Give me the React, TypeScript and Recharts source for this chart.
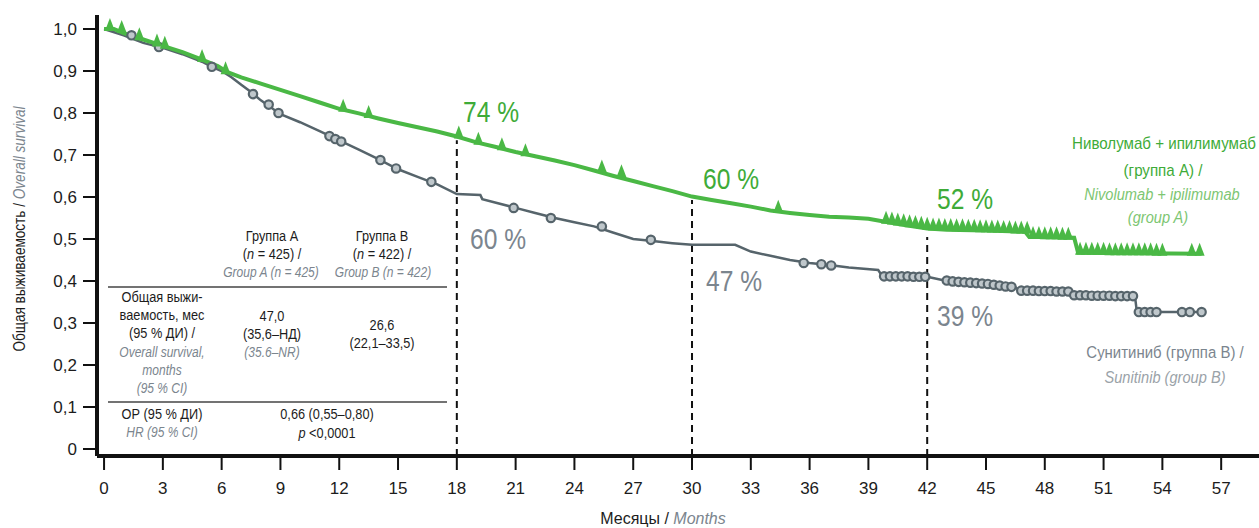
import { ComposedChart, Line, Scatter, XAxis, YAxis, ReferenceLine } from 'recharts';

// узкого шрифта нет, поэтому подписи сжимаются по горизонтали
const FONT = "'Liberation Sans', Arial, sans-serif";

const GREEN = '#4ab845';
const GREEN_TEXT = '#3eab38';
const GREEN_LIGHT = '#7dc672';
const GRAY = '#56646b';
const GRAY_TEXT = '#7b858e';
const GRAY_LIGHT = '#9aa2a8';
const INK = '#1c1c1c';

// оси
const monthTicks = [0, 3, 6, 9, 12, 15, 18, 21, 24, 27, 30, 33, 36, 39, 42, 45, 48, 51, 54, 57];
const survivalTicks = [0, 0.1, 0.2, 0.3, 0.4, 0.5, 0.6, 0.7, 0.8, 0.9, 1.0];

// группа А: ниволумаб + ипилимумаб
const groupAMonths = [0, 0.5, 1, 2, 3, 4, 5, 5.8, 6.3, 7, 8, 9, 10, 11, 12, 13, 14, 15, 16, 17, 18, 19, 20, 21, 22, 23, 24, 25, 26, 27, 28, 29, 30, 31, 32, 33, 34, 35, 36, 37, 38, 39, 40, 41, 42, 43, 45, 47, 47.2, 49.5, 49.7, 56];
const groupASurvival = [1.0, 1.0, 0.99, 0.975, 0.96, 0.945, 0.927, 0.912, 0.897, 0.885, 0.87, 0.855, 0.84, 0.825, 0.81, 0.799, 0.787, 0.776, 0.766, 0.756, 0.744, 0.73, 0.719, 0.707, 0.697, 0.687, 0.676, 0.663, 0.65, 0.638, 0.626, 0.614, 0.601, 0.593, 0.585, 0.577, 0.568, 0.562, 0.557, 0.553, 0.551, 0.548, 0.54, 0.532, 0.525, 0.522, 0.52, 0.517, 0.505, 0.503, 0.467, 0.465];

// группа B: сунитиниб
const groupBMonths = [0, 1, 2, 3, 4, 5, 5.5, 6, 6.5, 7, 7.5, 8, 9, 10, 11, 12, 13, 14, 15, 16, 17, 18, 19.2, 19.3, 21, 22, 23, 24, 25, 26, 27, 28, 29, 30, 32.2, 33, 34, 35, 36, 37, 38, 39.5, 39.7, 42, 43, 44, 45, 46.5, 46.7, 49.3, 49.4, 52.6, 52.7, 56];
const groupBSurvival = [1.0, 0.985, 0.967, 0.955, 0.94, 0.922, 0.91, 0.9, 0.885, 0.867, 0.85, 0.83, 0.797, 0.778, 0.757, 0.735, 0.713, 0.69, 0.666, 0.648, 0.63, 0.607, 0.605, 0.595, 0.574, 0.562, 0.55, 0.54, 0.53, 0.515, 0.5, 0.495, 0.49, 0.486, 0.486, 0.47, 0.46, 0.45, 0.443, 0.438, 0.432, 0.426, 0.412, 0.41, 0.4, 0.395, 0.392, 0.385, 0.378, 0.375, 0.367, 0.364, 0.326, 0.326];

// цензурированные наблюдения, группа А
const censorAMonths = [
  0.3, 0.9, 1.8, 2.7, 3.1, 5.0, 6.2, 12.2, 13.5, 18.1, 19.1, 20.3, 21.5, 25.4, 26.4, 34.4,
  39.9, 40.2, 40.5, 40.8, 41.1, 41.4, 41.7, 42.0, 42.3, 42.6, 42.9, 43.2, 43.5, 43.8, 44.1, 44.4, 44.7, 45.0, 45.3, 45.6, 45.9, 46.2, 46.5, 46.8, 47.1,
  47.4, 47.7, 48.0, 48.3, 48.6, 48.9, 49.2,
  49.8, 50.1, 50.4, 50.7, 51.0, 51.3, 51.6, 51.9, 52.2, 52.5, 52.8, 53.1, 53.4, 53.7, 54.0, 55.5, 55.9,
];
const censorASurvival = [
  1.0, 0.995, 0.978, 0.963, 0.958, 0.926, 0.897, 0.808, 0.793, 0.744, 0.729, 0.716, 0.702, 0.663, 0.652, 0.567,
  0.541, 0.539, 0.537, 0.535, 0.533, 0.531, 0.529, 0.527, 0.525, 0.525, 0.524, 0.524, 0.523, 0.523, 0.522, 0.522, 0.521, 0.521, 0.52, 0.52, 0.519, 0.519, 0.518, 0.518, 0.517,
  0.505, 0.505, 0.504, 0.504, 0.504, 0.503, 0.503,
  0.467, 0.467, 0.467, 0.467, 0.467, 0.466, 0.466, 0.466, 0.466, 0.466, 0.466, 0.466, 0.466, 0.465, 0.465, 0.465, 0.465,
];

// цензурированные наблюдения, группа B
const censorBMonths = [
  1.4, 2.8, 5.5, 7.6, 8.4, 8.9, 11.5, 11.8, 12.1, 14.1, 14.9, 16.7, 20.9, 22.8, 25.4, 27.9, 35.7, 36.6, 37.1,
  39.8, 40.1, 40.4, 40.7, 41.0, 41.3, 41.6, 41.9,
  43.0, 43.3, 43.6, 43.9, 44.2, 44.5, 44.8, 45.1, 45.4, 45.7, 46.0, 46.3,
  46.8, 47.1, 47.4, 47.7, 48.0, 48.3, 48.6, 48.9, 49.2,
  49.5, 49.8, 50.1, 50.4, 50.7, 51.0, 51.3, 51.6, 51.9, 52.2, 52.5,
  52.8, 53.1, 53.4, 53.7, 55.0, 55.4, 56.0,
];
const censorBSurvival = [
  0.985, 0.957, 0.91, 0.845, 0.82, 0.8, 0.745, 0.738, 0.732, 0.688, 0.668, 0.636, 0.574, 0.55, 0.53, 0.498, 0.443, 0.44, 0.437,
  0.411, 0.411, 0.411, 0.411, 0.411, 0.41, 0.41, 0.41,
  0.401, 0.399, 0.398, 0.397, 0.396, 0.395, 0.394, 0.393, 0.391, 0.389, 0.387, 0.386,
  0.377, 0.377, 0.377, 0.376, 0.376, 0.376, 0.375, 0.375, 0.375,
  0.366, 0.366, 0.366, 0.365, 0.365, 0.365, 0.365, 0.364, 0.364, 0.364, 0.364,
  0.326, 0.326, 0.326, 0.326, 0.326, 0.326, 0.326,
];

// пунктирные отметки на 18, 30 и 42 мес
const markMonths = [18, 30, 42];
const markTops = [0.735, 0.593, 0.505];

const Y_MIN = -0.0167;
const Y_MAX = 1.0333;

const zip = (ms: number[], ss: number[]) => ms.map((m, i) => ({ m, s: ss[i] }));

const groupA = zip(groupAMonths, groupASurvival);
const groupB = zip(groupBMonths, groupBSurvival);
const censorA = zip(censorAMonths, censorASurvival);
const censorB = zip(censorBMonths, censorBSurvival);

const Triangle = (props: any) => {
  const { cx, cy } = props;
  if (cx == null || cy == null) return null;
  return <path d={`M${cx - 5},${cy + 2} L${cx},${cy - 11} L${cx + 5},${cy + 2} Z`} fill={GREEN} />;
};

const Ring = (props: any) => {
  const { cx, cy } = props;
  if (cx == null || cy == null) return null;
  return <circle cx={cx} cy={cy} r={4.2} fill="#bfc7cb" stroke={GRAY} strokeWidth={2.2} />;
};

const fmtSurvival = (v: number) => (v === 0 ? '0' : v.toFixed(1).replace('.', ','));

// текст со сжатием по ширине
function T({ x, y, size, fill = INK, italic = false, anchor = 'middle', sx = 0.85, rotate = 0, children }: any) {
  const rot = rotate ? ` rotate(${rotate})` : '';
  return (
    <text
      transform={`translate(${x},${y})${rot} scale(${sx},1)`}
      textAnchor={anchor}
      dominantBaseline="central"
      fontFamily={FONT}
      fontSize={size}
      fill={fill}
      fontStyle={italic ? 'italic' : undefined}
    >
      {children}
    </text>
  );
}

function Overlay() {
  return (
    <svg width={1259} height={528} style={{ position: 'absolute', left: 0, top: 0, pointerEvents: 'none' }}>
      {/* подписи осей */}
      <T x={20} y={229} size={16} rotate={-90} sx={0.85}>
        Общая выживаемость / <tspan fontStyle="italic" fill={GRAY_TEXT}>Overall survival</tspan>
      </T>
      <T x={663} y={518} size={16} sx={1}>
        Месяцы / <tspan fontStyle="italic" fill={GRAY_TEXT}>Months</tspan>
      </T>

      {/* проценты */}
      <T x={463} y={112} size={30} fill={GREEN_TEXT} anchor="start" sx={0.82}>74 %</T>
      <T x={703} y={179} size={30} fill={GREEN_TEXT} anchor="start" sx={0.82}>60 %</T>
      <T x={937} y={199} size={30} fill={GREEN_TEXT} anchor="start" sx={0.82}>52 %</T>
      <T x={470} y={239} size={30} fill={GRAY_TEXT} anchor="start" sx={0.82}>60 %</T>
      <T x={706} y={281} size={30} fill={GRAY_TEXT} anchor="start" sx={0.82}>47 %</T>
      <T x={937} y={316} size={30} fill={GRAY_TEXT} anchor="start" sx={0.82}>39 %</T>

      {/* подписи кривых */}
      <T x={1164} y={143} size={17} fill={GREEN_TEXT} sx={0.89}>Ниволумаб + ипилимумаб</T>
      <T x={1163} y={170} size={17} fill={GREEN_TEXT} sx={0.89}>(группа А) /</T>
      <T x={1162} y={194} size={17} fill={GREEN_LIGHT} italic sx={0.86}>Nivolumab + ipilimumab</T>
      <T x={1158} y={217} size={17} fill={GREEN_LIGHT} italic sx={0.86}>(group A)</T>
      <T x={1165} y={352} size={17} fill={GRAY_TEXT} sx={0.88}>Сунитиниб (группа В) /</T>
      <T x={1165} y={377} size={17} fill={GRAY_LIGHT} italic sx={0.86}>Sunitinib (group B)</T>

      {/* таблица */}
      <line x1={108} x2={447} y1={287} y2={287} stroke="#444" strokeWidth={1.3} />
      <line x1={108} x2={447} y1={402} y2={402} stroke="#444" strokeWidth={1.3} />

      <T x={272} y={236} size={15}>Группа А</T>
      <T x={272} y={254} size={15}>(<tspan fontStyle="italic">n</tspan> = 425) /</T>
      <T x={271} y={272} size={15} fill={GRAY_TEXT} italic sx={0.8}>Group A (n = 425)</T>
      <T x={382} y={236} size={15}>Группа В</T>
      <T x={382} y={254} size={15}>(<tspan fontStyle="italic">n</tspan> = 422) /</T>
      <T x={383} y={272} size={15} fill={GRAY_TEXT} italic sx={0.8}>Group B (n = 422)</T>

      <T x={162} y={297} size={15}>Общая выжи-</T>
      <T x={162} y={315} size={15}>ваемость, мес</T>
      <T x={162} y={333} size={15}>(95 % ДИ) /</T>
      <T x={162} y={352} size={15} fill={GRAY_TEXT} italic sx={0.8}>Overall survival,</T>
      <T x={162} y={370} size={15} fill={GRAY_TEXT} italic sx={0.8}>months</T>
      <T x={162} y={388} size={15} fill={GRAY_TEXT} italic sx={0.8}>(95 % CI)</T>

      <T x={272} y={316} size={15}>47,0</T>
      <T x={272} y={334} size={15}>(35,6–НД)</T>
      <T x={272} y={352} size={15} fill={GRAY_TEXT} italic sx={0.8}>(35.6–NR)</T>
      <T x={382} y={325} size={15}>26,6</T>
      <T x={382} y={343} size={15}>(22,1–33,5)</T>

      <T x={162} y={414} size={15}>ОР (95 % ДИ)</T>
      <T x={162} y={432} size={15} fill={GRAY_TEXT} italic sx={0.8}>HR (95 % CI)</T>
      <T x={327} y={414} size={15}>0,66 (0,55–0,80)</T>
      <T x={327} y={433} size={15}><tspan fontStyle="italic">p</tspan> &lt;0,0001</T>
    </svg>
  );
}

export default function App() {
  return (
    <div style={{ position: 'absolute', left: 0, top: 0, width: 1259, height: 528, background: '#fff', fontFamily: FONT }}>
      <ComposedChart width={1259} height={528} margin={{ top: 15, right: 0, bottom: 32, left: 37 }}>
        <XAxis
          type="number"
          dataKey="m"
          domain={[-0.36, 58.93]}
          ticks={monthTicks}
          allowDataOverflow
          interval={0}
          height={40}
          tickSize={14}
          tickMargin={12}
          axisLine={{ stroke: '#111', strokeWidth: 4 }}
          tickLine={{ stroke: '#111', strokeWidth: 2 }}
          tick={{ fill: INK, fontSize: 17, fontFamily: FONT }}
        />
        <YAxis
          type="number"
          dataKey="s"
          domain={[Y_MIN, Y_MAX]}
          ticks={survivalTicks}
          allowDataOverflow
          interval={0}
          width={60}
          tickSize={14}
          tickMargin={6}
          tickFormatter={fmtSurvival}
          axisLine={{ stroke: '#111', strokeWidth: 4 }}
          tickLine={{ stroke: '#111', strokeWidth: 2 }}
          tick={{ fill: INK, fontSize: 17, fontFamily: FONT }}
        />
        {markMonths.map((m, i) => (
          <ReferenceLine
            key={m}
            segment={[{ x: m, y: Y_MIN }, { x: m, y: markTops[i] }]}
            stroke="#111"
            strokeWidth={2}
            strokeDasharray="7 5"
          />
        ))}
        <Line data={groupB} dataKey="s" type="linear" stroke={GRAY} strokeWidth={2.5} dot={false} isAnimationActive={false} />
        <Scatter data={censorB} dataKey="s" shape={Ring} isAnimationActive={false} />
        <Line data={groupA} dataKey="s" type="linear" stroke={GREEN} strokeWidth={4} dot={false} isAnimationActive={false} />
        <Scatter data={censorA} dataKey="s" shape={Triangle} isAnimationActive={false} />
      </ComposedChart>
      <Overlay />
    </div>
  );
}
